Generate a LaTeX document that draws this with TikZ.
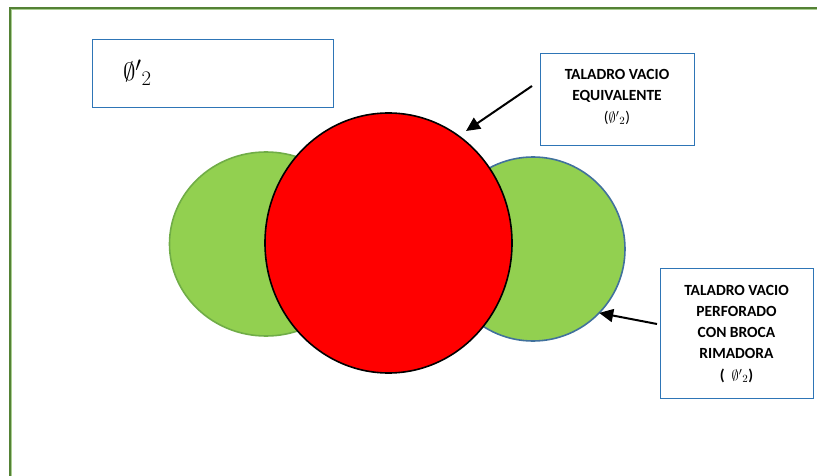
\documentclass[tikz,border=0pt]{standalone}
\usepackage{fontspec}
\setmainfont{Carlito}
\usetikzlibrary{shapes.geometric,arrows.meta}
\definecolor{framegreen}{HTML}{548235}
\definecolor{leafgreen}{HTML}{92D050}
\definecolor{rimgreen}{HTML}{70AD47}
\definecolor{rimblue}{HTML}{41719C}
\definecolor{boxblue}{HTML}{2E75B6}
\tikzset{
  every node/.style={inner sep=0pt, outer sep=0pt},
  hole/.style={ellipse, draw, line width=1.6pt},
  labelbox/.style={draw=boxblue, line width=0.9pt, fill=white},
  labeltext/.style={align=center, font=\fontsize{15.5}{21}\selectfont\bfseries},
  pointer/.style={line width=2pt, -{Triangle[length=14pt,width=13pt]}}
}
\newcommand{\diam}{$\emptyset'{}_{2}$}
\begin{document}
\begin{tikzpicture}[x=1pt,y=-1pt]
  \useasboundingbox (0,0) rectangle (817,476);
  % page frame, open on the right and at the bottom
  \draw[framegreen, line width=2.6pt] (10,476) -- (10,8) -- (817,8);
  \draw[rimgreen!60, line width=0.6pt] (11.5,476) -- (11.5,9.5) -- (817,9.5);

  % the two reamed holes and the equivalent empty hole
  \node[hole, fill=leafgreen, draw=rimgreen, minimum width=193, minimum height=184] (lg) at (266,244) {};
  \node[hole, fill=leafgreen, draw=rimblue, minimum width=184, minimum height=184] (rg) at (533,249) {};
  \node[hole, fill=red, draw=black, minimum width=247, minimum height=260] (rd) at (388.5,243) {};

  % title box
  \node[labelbox, minimum width=241, minimum height=68, anchor=north west] (title) at (92,39) {};
  \node[font=\fontsize{28}{32}\selectfont, anchor=west] (sym) at (123,73) {\diam};

  % label boxes
  \node[labelbox, minimum width=154, minimum height=92, anchor=north west] (eq) at (540,53) {};
  \node[labelbox, minimum width=153, minimum height=130, anchor=north west] (pf) at (660,268) {};
  \node[labeltext] (eqtxt) at (617,97)
    {TALADRO VACIO\\EQUIVALENTE\\[1pt]{\mdseries(\diam)}};
  \node[labeltext] (pftxt) at (736.5,334)
    {TALADRO VACIO\\PERFORADO\\CON BROCA\\RIMADORA\\[1pt]({\mdseries\ \ \diam})};

  % pointers
  \coordinate (s1) at (532,86);
  \coordinate (t1) at (466,131);
  \coordinate (s2) at (657,324);
  \draw[pointer] (s1) -- (t1);
  \draw[pointer] (s2) -- (rg.-44);
\end{tikzpicture}
\end{document}
